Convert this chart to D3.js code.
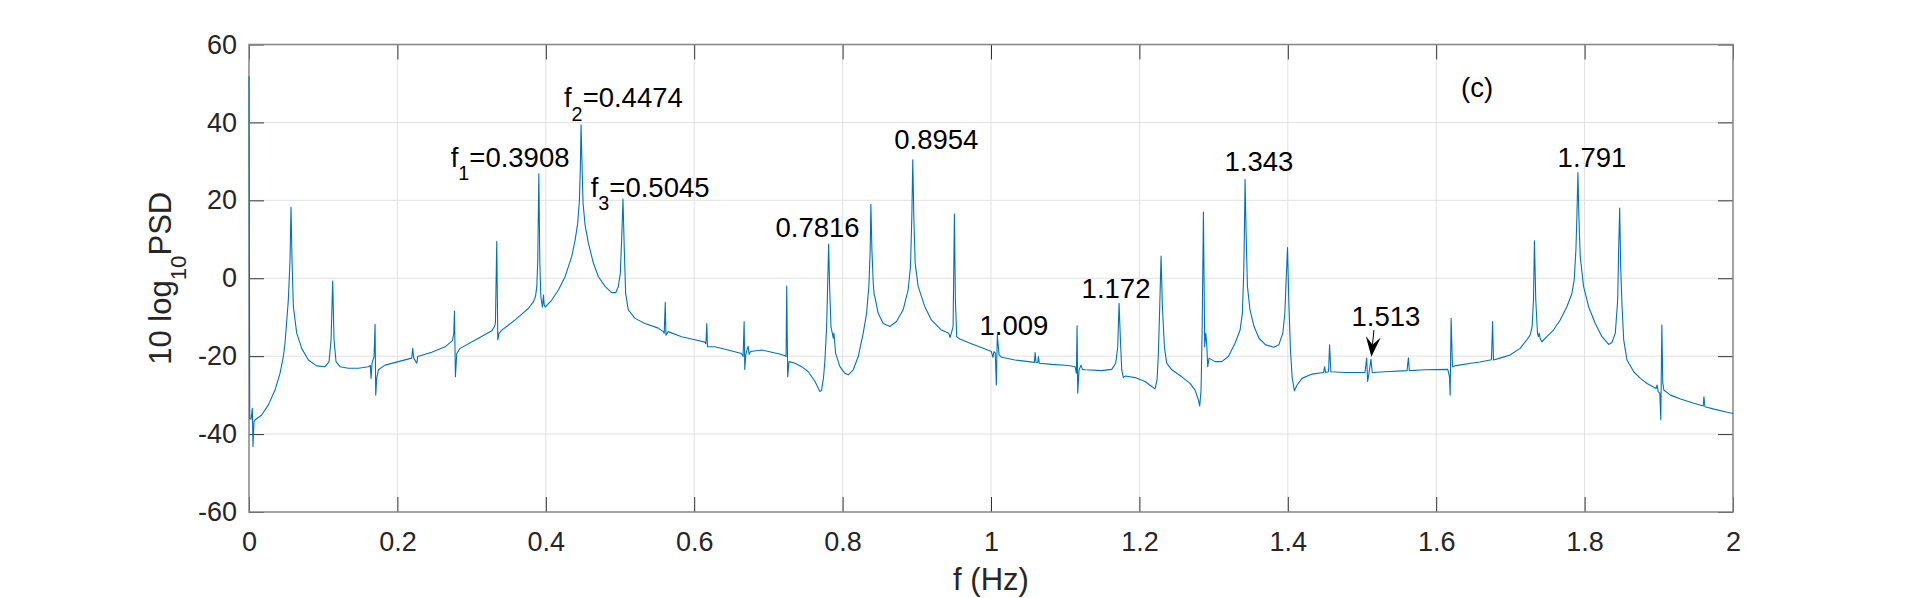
<!DOCTYPE html>
<html><head><meta charset="utf-8">
<script src="https://cdn.jsdelivr.net/npm/d3@7"></script>
<style>
body{margin:0;background:#fff;}
svg{display:block;}
text{font-family:"Liberation Sans", Arial, Helvetica, sans-serif;}
</style>
</head><body>
<svg id="chart" width="1915" height="598"></svg>
<script>
// ---- data ----
const freq = [
0,0.001,0.0027,0.0045,0.0054,0.0067,0.0081,0.0171,0.0261,0.0351,0.0418,0.0463,0.0485,0.0503,0.053,0.0553,0.0566,0.058,0.0598,0.0643,0.071,0.08,0.0912,0.1025,0.1079,0.1106,0.1128,0.1146,0.1173,0.1227,0.1339,0.1474,0.1609,0.1636,0.1645,0.1658,0.1685,0.1699,0.1708,0.1721,0.1744,0.1834,0.2013,0.2193,0.2207,0.222,0.2261,0.2274,0.2463,0.2643,0.2742,0.276,0.2769,0.2782,0.28,0.2845,0.3092,0.3272,0.3308,0.3321,0.3339,0.3353,0.3371,0.3408,0.3498,0.3587,0.3677,0.3767,0.3834,0.3861,0.3879,0.3892,0.3906,0.3919,0.3933,0.3955,0.3969,0.3978,0.3991,0.4081,0.417,0.426,0.435,0.4395,0.443,0.4453,0.4466,0.4475,0.4489,0.4502,0.4529,0.4574,0.4641,0.4709,0.4798,0.4888,0.4942,0.4978,0.5004,0.5022,0.504,0.5058,0.5076,0.5112,0.5202,0.5336,0.5516,0.5583,0.5596,0.561,0.5619,0.565,0.583,0.6009,0.6143,0.6157,0.617,0.6179,0.6278,0.6457,0.6637,0.6659,0.6673,0.6682,0.6695,0.6709,0.6727,0.674,0.676,0.691,0.7045,0.7135,0.7224,0.7238,0.7247,0.726,0.7278,0.7359,0.7448,0.7538,0.7628,0.7695,0.7717,0.7744,0.7762,0.7785,0.7798,0.7812,0.7825,0.7843,0.7861,0.7874,0.7883,0.7906,0.7964,0.8031,0.8076,0.8143,0.8211,0.8278,0.8323,0.8354,0.8372,0.8381,0.8395,0.8413,0.8426,0.8435,0.848,0.8547,0.8637,0.8726,0.8816,0.8883,0.8915,0.8933,0.8946,0.896,0.8978,0.9018,0.9108,0.9197,0.9332,0.943,0.9448,0.9466,0.9489,0.9507,0.952,0.9538,0.9578,0.9735,0.987,1.0004,1.0027,1.004,1.0058,1.0072,1.0085,1.0109,1.0145,1.0324,1.0504,1.0585,1.0594,1.0607,1.063,1.0639,1.0652,1.0819,1.1043,1.1133,1.1151,1.116,1.1169,1.1187,1.1214,1.1232,1.1268,1.1492,1.1627,1.1681,1.1708,1.1726,1.1744,1.1762,1.1784,1.1807,1.1942,1.2076,1.2166,1.2211,1.2238,1.2256,1.2274,1.2292,1.231,1.2337,1.2355,1.2368,1.2436,1.2571,1.2683,1.275,1.2795,1.2813,1.2831,1.2845,1.2863,1.288,1.2894,1.2907,1.2921,1.2939,1.302,1.311,1.3199,1.3289,1.3357,1.3388,1.3406,1.3415,1.3424,1.3438,1.3456,1.3491,1.3545,1.3612,1.3701,1.3813,1.3879,1.3933,1.396,1.3978,1.3996,1.4013,1.4036,1.4058,1.4089,1.4125,1.4192,1.4326,1.4482,1.4496,1.4509,1.4549,1.4563,1.458,1.4772,1.504,1.5063,1.5076,1.5094,1.5121,1.5138,1.5308,1.5607,1.5625,1.5638,1.5844,1.6156,1.6179,1.6188,1.6201,1.6219,1.6246,1.6469,1.659,1.6745,1.676,1.6772,1.686,1.6995,1.7131,1.7221,1.7266,1.7293,1.7311,1.7324,1.7342,1.7365,1.7378,1.7387,1.7401,1.7423,1.7491,1.7581,1.7671,1.7761,1.7829,1.786,1.7883,1.7896,1.791,1.7923,1.7941,1.7986,1.8054,1.8144,1.8234,1.8324,1.8369,1.8414,1.8446,1.8459,1.8473,1.8486,1.8505,1.8527,1.8572,1.8662,1.8752,1.8842,1.8964,1.8977,1.8991,1.9014,1.9027,1.9041,1.9054,1.9068,1.9158,1.9293,1.9473,1.9599,1.9608,1.9622,1.9743,1.9923,2.0
];
const psd = [
51.7,-36.0,-36.2,-33.4,-43.2,-36.8,-36.4,-35.1,-32.5,-28.7,-24.4,-20.1,-16.7,-12.4,-5.6,4.7,18.2,4.7,-7.3,-14.1,-18.0,-21.0,-22.5,-22.7,-21.4,-15.8,-0.7,-15.8,-21.4,-22.7,-23.1,-23.1,-22.7,-22.4,-25.7,-21.8,-20.1,-11.8,-30.0,-25.7,-23.5,-22.3,-21.4,-20.5,-18.0,-20.5,-21.8,-20.1,-19.0,-17.6,-16.0,-14.1,-8.4,-25.3,-19.3,-18.0,-15.4,-13.5,-12.4,-11.6,9.4,-15.8,-14.1,-13.3,-12.0,-10.7,-9.2,-7.7,-6.0,-4.7,-2.1,4.7,26.8,4.7,-4.7,-7.4,-4.3,-6.8,-7.4,-5.6,-3.0,0.4,5.6,9.8,14.1,20.1,28.7,39.4,28.7,19.3,13.7,9.0,3.9,0.4,-2.1,-3.7,-3.7,-2.1,1.3,9.8,20.3,7.3,-3.9,-8.1,-10.3,-11.6,-12.8,-13.7,-14.1,-6.2,-14.6,-13.7,-15.0,-15.8,-16.4,-16.8,-11.6,-17.6,-17.6,-18.4,-19.3,-20.1,-11.1,-23.4,-19.7,-18.5,-17.5,-19.5,-18.8,-18.4,-19.0,-19.4,-19.9,-20.1,-2.0,-25.3,-21.4,-21.8,-22.7,-24.0,-26.5,-29.1,-28.7,-25.3,-21.0,-12.4,-2.1,8.8,-2.1,-12.4,-14.1,-15.4,-14.1,-19.3,-22.7,-24.4,-24.8,-23.5,-20.1,-14.1,-9.0,-2.1,7.3,19.0,7.3,-1.3,-4.3,-4.7,-9.0,-11.6,-12.4,-11.1,-8.1,-3.0,3.0,15.8,30.4,15.8,3.9,-2.1,-7.3,-10.7,-13.3,-14.1,-15.2,-14.1,-12.4,16.5,-5.6,-15.0,-15.6,-16.8,-17.8,-18.8,-20.3,-18.8,-19.2,-27.4,-14.6,-19.7,-20.3,-21.0,-21.4,-21.6,-19.1,-21.6,-21.7,-20.1,-21.8,-22.1,-22.4,-22.7,-24.4,-12.2,-29.5,-23.5,-22.3,-23.4,-23.5,-23.7,-23.4,-21.8,-17.6,-6.4,-15.8,-23.5,-25.5,-25.1,-25.5,-26.5,-27.8,-28.4,-26.1,-19.3,-7.3,5.7,-7.3,-17.6,-20.1,-21.8,-23.5,-25.3,-27.0,-28.7,-31.2,-32.8,-28.7,-14.1,17.0,-17.6,-14.1,-16.7,-22.7,-20.5,-21.4,-21.4,-20.1,-16.7,-13.3,-9.0,1.3,11.6,25.4,11.6,-2.1,-8.2,-12.4,-15.4,-17.1,-17.7,-17.1,-14.1,-9.0,-0.4,7.9,-5.6,-18.4,-25.3,-28.9,-27.4,-25.7,-24.6,-24.2,-22.7,-24.2,-24.0,-17.1,-24.0,-24.2,-24.2,-20.5,-26.5,-24.4,-20.8,-24.2,-24.0,-23.7,-20.4,-23.7,-23.5,-23.4,-25.3,-30.0,-10.3,-22.7,-22.5,-21.8,-21.5,-20.9,-11.1,-21.0,-20.5,-19.7,-18.0,-15.8,-14.6,-12.4,-5.6,9.6,-5.6,-14.1,-15.0,-14.1,-15.4,-16.3,-15.0,-13.3,-10.7,-7.3,-3.9,-0.4,7.3,15.8,27.1,15.8,5.6,-2.1,-7.3,-11.6,-15.0,-17.0,-16.5,-14.1,-5.6,7.3,18.0,3.0,-7.3,-15.8,-21.0,-24.0,-25.7,-27.0,-28.3,-27.4,-29.1,-29.5,-36.3,-12.0,-27.0,-28.7,-30.0,-31.0,-32.1,-32.8,-30.4,-33.0,-33.6,-34.4,-34.7
];
const xTickValues = [0,0.2,0.4,0.6,0.8,1,1.2,1.4,1.6,1.8,2];
const xTickLabels = ["0","0.2","0.4","0.6","0.8","1","1.2","1.4","1.6","1.8","2"];
const yTickValues = [-60,-40,-20,0,20,40,60];
const yTickLabels = ["-60","-40","-20","0","20","40","60"];
const xLabelText = "f (Hz)";
const yLabelParts = [["10 log",false],["10",true],["PSD",false]];
// annotation texts with their anchor points in data units (f, dB)
const noteTexts = [
  [["f",false],["1",true],["=0.3908",false]],
  [["f",false],["2",true],["=0.4474",false]],
  [["f",false],["3",true],["=0.5045",false]],
  [["0.7816",false]], [["0.8954",false]], [["1.009",false]], [["1.172",false]],
  [["1.343",false]], [["1.791",false]], [["1.513",false]], [["(c)",false]]
];
const noteF = [0.2718,0.4245,0.4605,0.7662,0.9263,1.0310,1.1685,1.3612,1.8100,1.5323,1.6550];
const noteV = [28.63,43.88,20.93,10.51,33.25,-14.56,-4.99,27.53,28.63,-12.25,46.52];
const noteAnchor = ["start","start","start","middle","middle","middle","middle","middle","middle","middle","middle"];
const arrowF = [1.5161,1.5126];
const arrowV = [-13.27,-20.13];

// ---- drawing ----
const M = {l:249, r:1733, t:44.5, b:512};
const svg = d3.select("#chart");
const x = d3.scaleLinear().domain([0,2]).range([M.l, M.r]);
const y = d3.scaleLinear().domain([-60,60]).range([M.b, M.t]);
const TICK = 27, NOTE = 27.5, LABEL = 31;

svg.append("rect").attr("width",1915).attr("height",598).attr("fill","#fff");

// grid
const grid = svg.append("g").attr("stroke","#e1e1e1").attr("stroke-width",1);
grid.selectAll(".gx").data(xTickValues.slice(1,-1)).join("line")
  .attr("x1",d=>x(d)).attr("x2",d=>x(d)).attr("y1",M.t).attr("y2",M.b);
grid.selectAll(".gy").data(yTickValues.slice(1,-1)).join("line")
  .attr("x1",M.l).attr("x2",M.r).attr("y1",d=>y(d)).attr("y2",d=>y(d));

// axes
const fmtX = d=>xTickLabels[xTickValues.indexOf(d)];
const fmtY = d=>yTickLabels[yTickValues.indexOf(d)];
function styleAxis(g){
  g.select(".domain").remove();
  g.selectAll(".tick line").attr("stroke","#333").attr("stroke-width",1);
  g.selectAll(".tick text").attr("fill","#262626").attr("font-size",TICK)
    .attr("font-family","Liberation Sans, Arial, sans-serif");
}
svg.append("g").attr("transform",`translate(0,${M.b})`)
  .call(d3.axisBottom(x).tickValues(xTickValues).tickFormat(fmtX).tickSizeInner(-15).tickSizeOuter(0).tickPadding(20))
  .call(styleAxis);
svg.append("g").attr("transform",`translate(0,${M.t})`)
  .call(d3.axisTop(x).tickValues(xTickValues).tickFormat("").tickSizeInner(-15).tickSizeOuter(0))
  .call(styleAxis);
svg.append("g").attr("transform",`translate(${M.l},0)`)
  .call(d3.axisLeft(y).tickValues(yTickValues).tickFormat(fmtY).tickSizeInner(-15).tickSizeOuter(0).tickPadding(12))
  .call(styleAxis);
svg.append("g").attr("transform",`translate(${M.r},0)`)
  .call(d3.axisRight(y).tickValues(yTickValues).tickFormat("").tickSizeInner(-15).tickSizeOuter(0))
  .call(styleAxis);

// box
svg.append("rect").attr("x",M.l).attr("y",M.t).attr("width",M.r-M.l).attr("height",M.b-M.t)
  .attr("fill","none").attr("stroke","#858585").attr("stroke-width",1.5);

// series (drawn above the box, like the original)
const line = d3.line().x((d,i)=>x(freq[i])).y(d=>y(d));
svg.append("path").datum(psd).attr("d",line)
  .attr("fill","none").attr("stroke","#0072BD").attr("stroke-width",1.1)
  .attr("stroke-linejoin","round").attr("stroke-linecap","round");

// rich text helper (TeX-like subscripts)
function rich(sel, parts, size){
  let shifted = 0;
  parts.forEach(([t,sub])=>{
    const ts = sel.append("tspan").text(t);
    if(sub){ ts.attr("font-size", size*0.72).attr("dy", size*0.48); shifted = size*0.48; }
    else { ts.attr("font-size", size); if(shifted){ ts.attr("dy", -shifted); shifted = 0; } }
  });
  return sel;
}

// axis labels
svg.append("text").attr("x",(M.l+M.r)/2).attr("y",590).attr("text-anchor","middle")
  .attr("font-size",LABEL).attr("fill","#262626").text(xLabelText);
rich(svg.append("text").attr("transform",`translate(171,${(M.t+M.b)/2}) rotate(-90)`)
  .attr("text-anchor","middle").attr("fill","#262626"), yLabelParts, 31);

// annotations
noteTexts.forEach((parts,i)=>{
  rich(svg.append("text").attr("x",x(noteF[i])).attr("y",y(noteV[i]))
    .attr("text-anchor",noteAnchor[i]).attr("fill","#000"), parts, NOTE);
});

// arrow for 1.513
const ax0 = x(arrowF[0]), ay0 = y(arrowV[0]), ax1 = x(arrowF[1]), ay1 = y(arrowV[1]);
const len = Math.hypot(ax1-ax0, ay1-ay0), ux=(ax1-ax0)/len, uy=(ay1-ay0)/len, nx=-uy, ny=ux;
const HL = 20, HW = 15;
svg.append("line").attr("x1",ax0).attr("y1",ay0).attr("x2",ax1-ux*HL*0.6).attr("y2",ay1-uy*HL*0.6)
  .attr("stroke","#000").attr("stroke-width",1);
const bx = ax1-ux*HL, by = ay1-uy*HL;
svg.append("path").attr("d",
  `M${ax1},${ay1}L${bx+nx*HW/2},${by+ny*HW/2}L${ax1-ux*HL*0.6},${ay1-uy*HL*0.6}L${bx-nx*HW/2},${by-ny*HW/2}Z`)
  .attr("fill","#000");
</script>
</body></html>
